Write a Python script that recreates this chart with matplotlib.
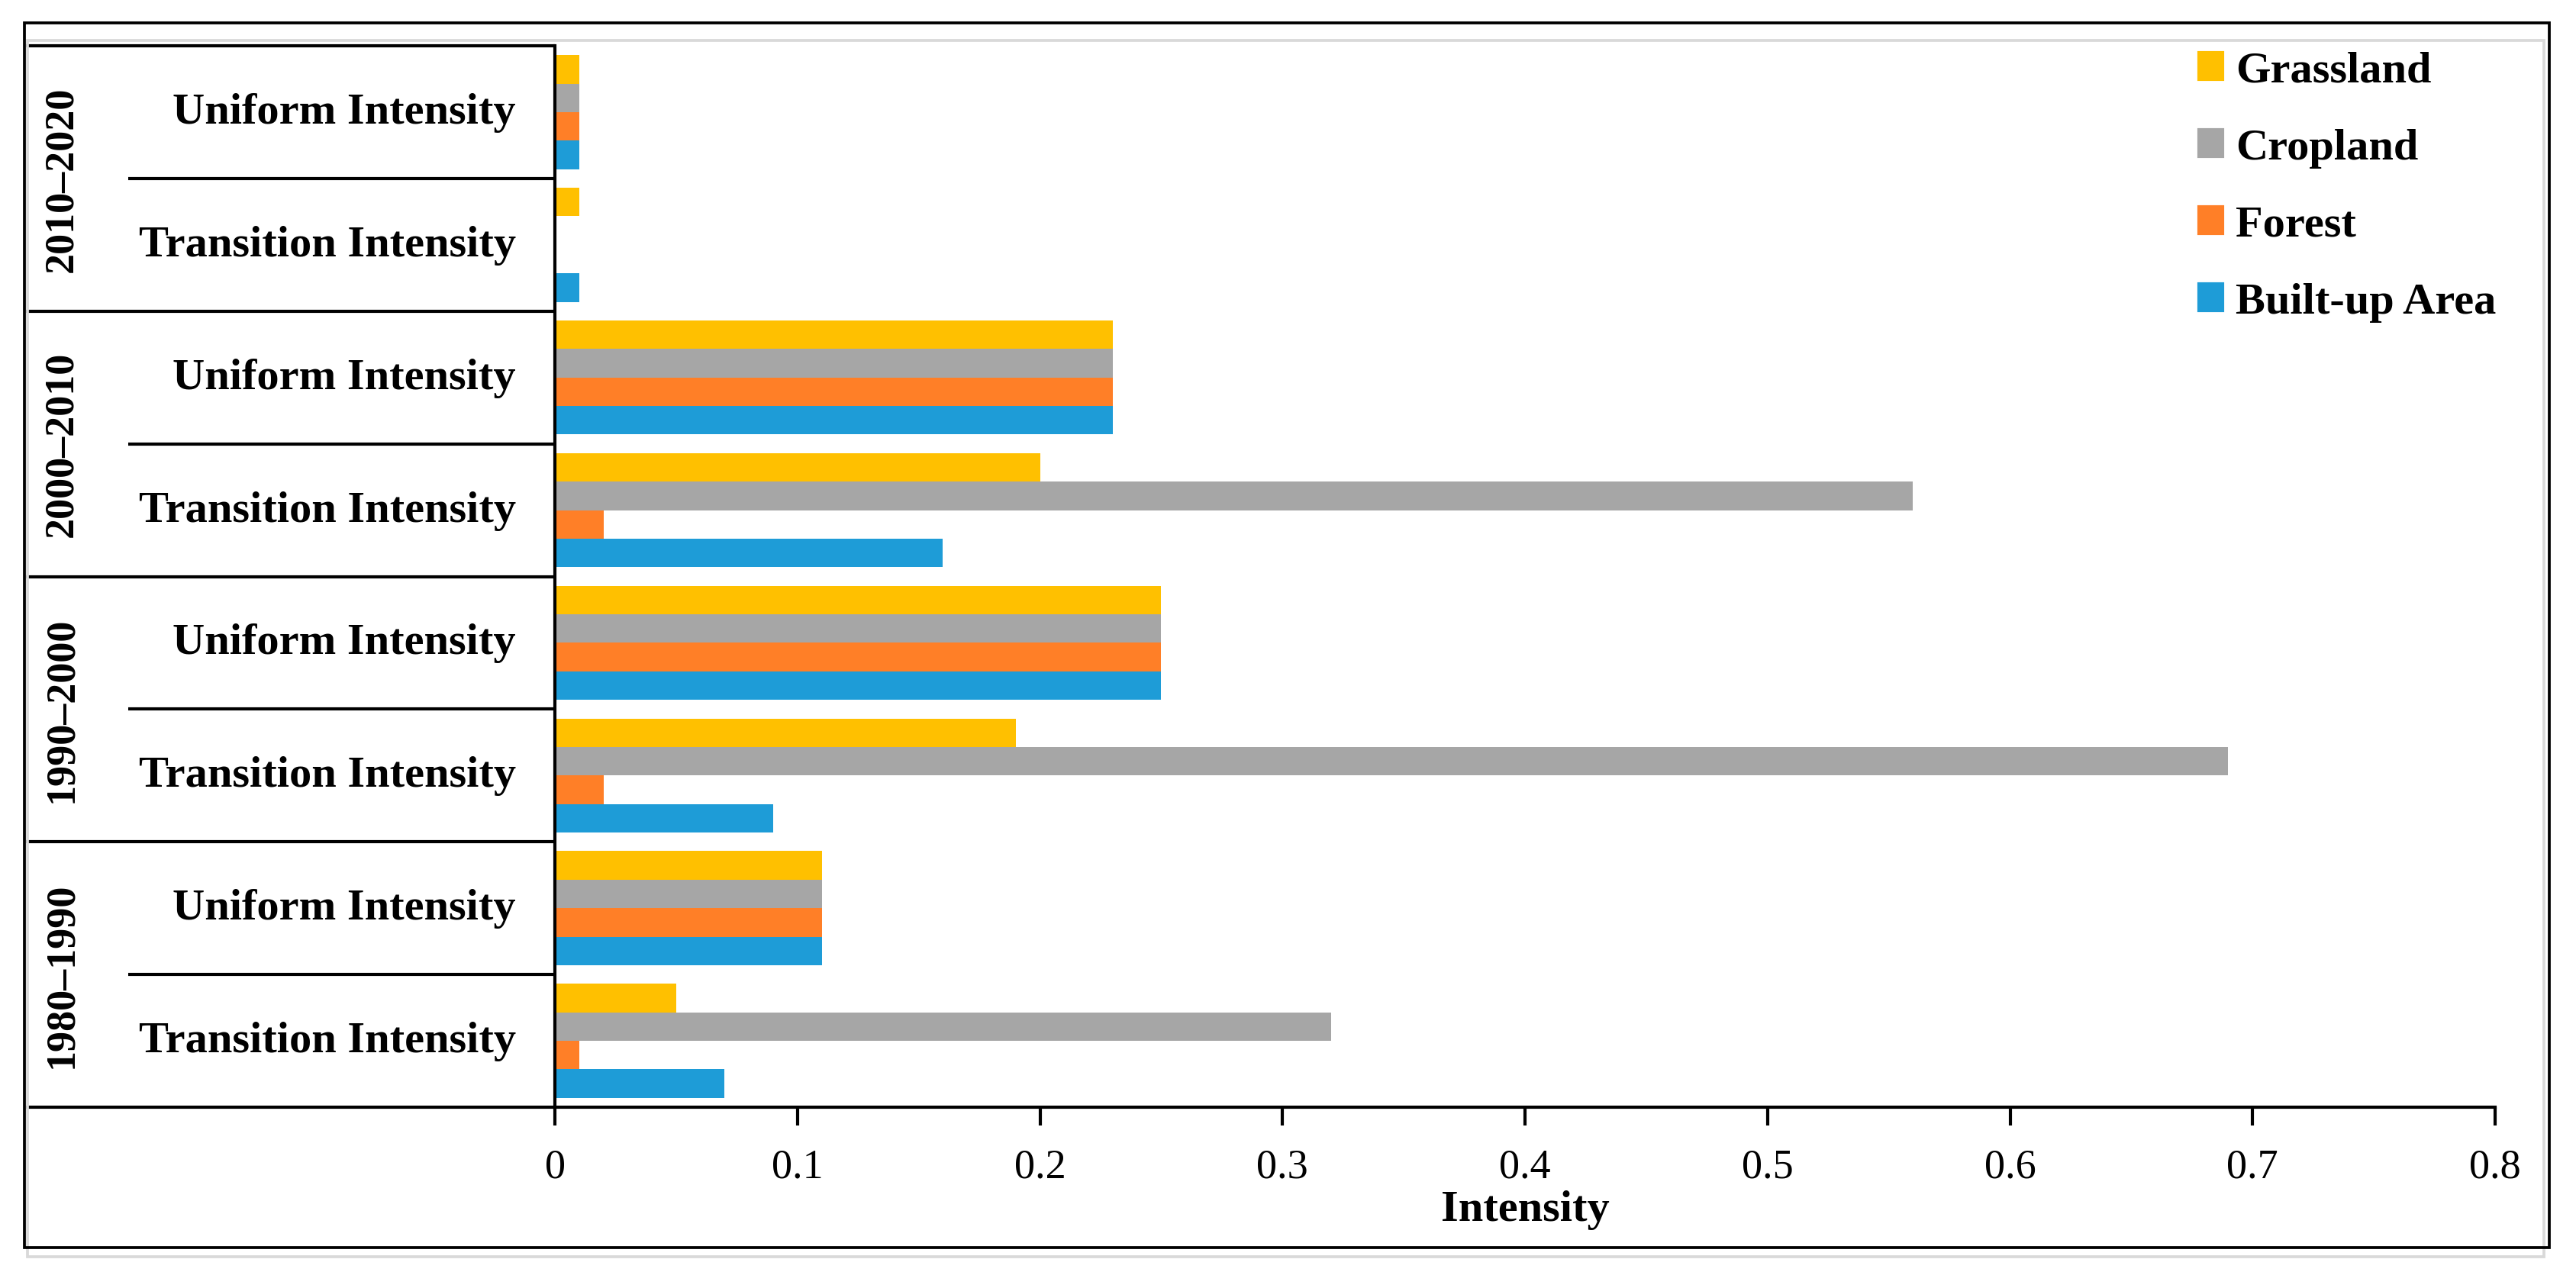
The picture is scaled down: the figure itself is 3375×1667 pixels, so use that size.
import matplotlib
matplotlib.use('Agg')
import matplotlib.pyplot as plt
from matplotlib.patches import Rectangle, Patch

plt.rcParams['font.family'] = ['Liberation Serif', 'DejaVu Serif']

# rows from bottom to top
periods = ['1980–1990', '1990–2000', '2000–2010', '2010–2020']
row_labels = ['Transition Intensity', 'Uniform Intensity'] * 4
grassland = [0.05, 0.11, 0.19, 0.25, 0.20, 0.23, 0.01, 0.01]
cropland = [0.32, 0.11, 0.69, 0.25, 0.56, 0.23, 0.0, 0.01]
forest = [0.01, 0.11, 0.02, 0.25, 0.02, 0.23, 0.0, 0.01]
builtup = [0.07, 0.11, 0.09, 0.25, 0.16, 0.23, 0.01, 0.01]

series = [('Grassland', grassland, '#FFC000'),
          ('Cropland', cropland, '#A6A6A6'),
          ('Forest', forest, '#FF7F27'),
          ('Built-up Area', builtup, '#1E9CD7')]

W, H = 3375, 1668
fig = plt.figure(figsize=(W / 300, H / 300), dpi=300)
ax = fig.add_axes([727 / W, 1 - 1452 / H, (3269 - 727) / W, (1452 - 61) / H])

bh = 0.215
rows = range(len(row_labels))
for k, (name, vals, col) in enumerate(series):
    offset = (1.5 - k) * bh
    ax.barh([r + offset for r in rows], vals, height=bh, color=col,
            label=name, linewidth=0)

ax.set_xlim(0, 0.8)
ax.set_ylim(-0.5, len(row_labels) - 0.5)
ax.set_xticks([0, 0.1, 0.2, 0.3, 0.4, 0.5, 0.6, 0.7, 0.8])
ax.set_xticklabels(['0', '0.1', '0.2', '0.3', '0.4', '0.5', '0.6', '0.7', '0.8'])
ax.set_yticks([])
ax.tick_params(axis='x', direction='out', length=5.8, width=1.0,
               pad=7, labelsize=13)
for s in ['top', 'right']:
    ax.spines[s].set_visible(False)
for s in ['left', 'bottom']:
    ax.spines[s].set_linewidth(1.0)
ax.set_xlabel('Intensity', fontsize=14, fontweight='bold', labelpad=1)

# table on the left side
tr = ax.get_yaxis_transform()
x_table = -0.2726
x_sub = -0.2199
for i in range(len(row_labels) + 1):
    y = i - 0.5
    x0 = x_table if i % 2 == 0 else x_sub
    ax.plot([x0, 0], [y, y], color='black', lw=1.0, transform=tr,
            clip_on=False, solid_capstyle='butt')
for i, lab in enumerate(row_labels):
    ax.text(-0.0201, i, lab, transform=tr, ha='right', va='center',
            fontsize=14, fontweight='bold')
for j, p in enumerate(periods):
    ax.text(-0.2541, 2 * j + 0.5, p, transform=tr, ha='center', va='center',
            rotation=90, fontsize=13, fontweight='bold')

handles = [Patch(color=c, label=n) for n, v, c in series]
leg = ax.legend(handles=handles, loc='upper left',
                bbox_to_anchor=(2881 / W, 1 - 68 / H),
                bbox_transform=fig.transFigure, frameon=False,
                fontsize=14, handlelength=0.53, handleheight=0.55,
                handletextpad=0.3, labelspacing=0.84, borderpad=0,
                borderaxespad=0)
for t in leg.get_texts():
    t.set_fontweight('bold')

# outer frame
fig.patches.append(Rectangle((36 / W, 20 / H), (3333 - 36) / W, (1630 - 36) / H,
                             transform=fig.transFigure, fill=False,
                             edgecolor='#D9D9D9', lw=0.9))
fig.patches.append(Rectangle((32 / W, 1 - 1636 / H), (3340 - 32) / W,
                             (1636 - 31) / H, transform=fig.transFigure,
                             fill=False, edgecolor='black', lw=0.9))

fig.savefig('out.png', dpi=300, facecolor='white')
